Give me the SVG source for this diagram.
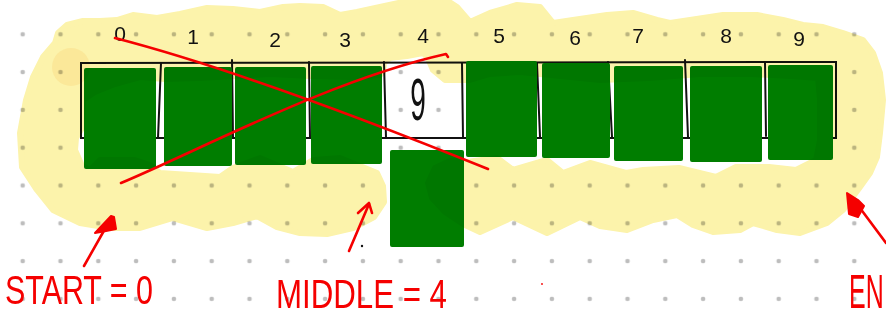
<svg xmlns="http://www.w3.org/2000/svg" width="886" height="320" viewBox="0 0 886 320">
  <defs>
    <pattern id="dots" x="3.8" y="15.4" width="37.8" height="37.8" patternUnits="userSpaceOnUse">
      <circle cx="18.9" cy="18.9" r="2.3" fill="#bdbdbd"/>
    </pattern>
    <style>
      .box { fill: #007d00; }
      .line { fill: none; stroke: #111; stroke-width: 2; stroke-linecap: round; }
      .idx { font-family: "Liberation Sans", "DejaVu Sans", sans-serif; font-size: 21px; fill: #111; text-anchor: middle; }
      .red { fill: none; stroke: #f50000; stroke-width: 2.6; stroke-linecap: round; stroke-linejoin: round; }
      .redfill { fill: #f50000; stroke: #f50000; stroke-width: 2; stroke-linejoin: round; }
      .lbl { font-family: "Liberation Sans", "DejaVu Sans", sans-serif; fill: #f50000; }
    </style>
  </defs>

  <rect width="886" height="320" fill="#ffffff"/>
  <rect id="grid" width="886" height="320" fill="url(#dots)"/>

  <g id="array">
    <path class="line" d="M81,63 L836,62 L836,138 L81,138 Z"/>
    <path class="line" d="M161,63 L158,138 M232,60 L233,138 M309,62 L310,138 M384,62 L386,138 M462,63 L463,137 M537,63 L540,137 M608,62 L612,137 M685,60 L688,137 M765,62 L766,136"/>
  </g>

  <g id="cells">
    <g id="cell0"><rect class="box" x="84" y="68" width="72" height="101" rx="2"/></g>
    <g id="cell1"><rect class="box" x="164" y="67" width="68" height="99" rx="2"/></g>
    <g id="cell2"><rect class="box" x="235" y="67" width="71" height="98" rx="2"/></g>
    <g id="cell3"><rect class="box" x="311" y="66" width="71" height="98" rx="2"/></g>
    <g id="cell4"><rect class="box" x="390" y="150" width="74" height="97" rx="2"/></g>
    <g id="cell5"><rect class="box" x="466" y="61" width="71" height="96" rx="2"/></g>
    <g id="cell6"><rect class="box" x="542" y="63" width="68" height="95" rx="2"/></g>
    <g id="cell7"><rect class="box" x="614" y="66" width="69" height="95" rx="2"/></g>
    <g id="cell8"><rect class="box" x="690" y="66" width="72" height="96" rx="2"/></g>
    <g id="cell9"><rect class="box" x="768" y="65" width="65" height="95" rx="2"/></g>
  </g>

  <g id="highlight" style="mix-blend-mode:multiply">
    <path fill="#fcf3ab" stroke="#fcf3ab" stroke-width="6" stroke-linejoin="round" d="M383,186 L384,202 L374,217 L353,228 L327,234 L300,233 L277,227 L257,216 L233,223 L207,228 L173,218 L140,228 L110,228 L80,223 L53,210 L37,190 L22,167 L20,133 L26,100 L33,77 L43,57 L55,43 L58,33 L67,25 L83,21 L100,21 L117,20 L133,15 L157,18 L180,14 L207,8 L233,9 L260,12 L283,7 L300,6 L323,7 L340,15 L357,12 L380,7 L403,2 L440,-4 L457,7 L470,22 L490,13 L517,5 L540,7 L553,23 L573,20 L607,15 L633,13 L657,20 L670,23 L690,20 L723,15 L757,15 L783,20 L803,25 L823,27 L843,33 L863,40 L873,53 L880,73 L883,100 L880,133 L877,157 L870,173 L860,187 L843,210 L827,223 L800,233 L777,230 L753,223 L740,230 L713,232 L693,225 L677,215 L653,220 L627,230 L600,226 L580,217 L547,233 L513,217 L480,232 L463,224 L445,212 L432,198 L428,183 L435,168 L450,161 L467,162 L497,158 L513,170 L547,160 L563,173 L590,163 L626,173 L643,170 L679,168 L716,177 L736,167 L769,167 L796,170 L816,160 L820,140 L820,100 L818,78 L790,76 L750,74 L700,74 L650,78 L600,80 L560,76 L520,72 L490,74 L470,80 L445,80 L433,70 L428,58 L423,53 L407,56 L390,58 L384,63 L383,72 L380,75 L350,77 L310,76 L270,74 L235,76 L200,78 L165,79 L140,77 L115,84 L95,92 L83,100 L82,128 L76,138 L75,150 L82,166 L90,170 L100,160 L135,160 L150,165 L160,173 L190,175 L220,177 L233,168 L260,158 L293,172 L313,160 L340,158 L360,166 L377,173 Z"/>
    <circle cx="71" cy="67" r="19" fill="#fbe899"/>
  </g>

  <g id="indices">
    <text class="idx" x="120" y="41">0</text>
    <text class="idx" x="193" y="44">1</text>
    <text class="idx" x="275" y="47">2</text>
    <text class="idx" x="345" y="47">3</text>
    <text class="idx" x="423" y="43">4</text>
    <text class="idx" x="499" y="43">5</text>
    <text class="idx" x="575" y="45">6</text>
    <text class="idx" x="638" y="43">7</text>
    <text class="idx" x="726" y="43">8</text>
    <text class="idx" x="799" y="46">9</text>
  </g>

  <g id="value">
    <text font-family="Liberation Sans, DejaVu Sans, sans-serif" font-size="40" fill="#111" text-anchor="middle" transform="translate(418,120) scale(0.7,1.5)">9</text>
  </g>

  <g id="connectors">
    <path class="red" d="M115,38 C200,60 330,105 488,169"/>
    <path class="red" d="M121,183 C200,150 330,80 446,54 L448,57"/>
    <path class="red" stroke-width="3" d="M84,266 L110,220"/>
    <path class="redfill" d="M95,233 L111,216 L114,217 L116,229 L106,231 Z"/>
    <path class="red" d="M349,251 L369,204"/>
    <path class="red" d="M358,213 L369,203 L372,213"/>
    <path class="red" stroke-width="3" d="M886,243 L854,200"/>
    <path class="redfill" d="M847,193 L849,214 L858,217 L864,206 L858,200 Z"/>
    <circle cx="362" cy="246" r="1.2" fill="#111"/>
    <circle cx="542" cy="284" r="0.9" fill="#f50000"/>
  </g>

  <g id="labels">
    <text class="lbl" x="5" y="304" font-size="40" textLength="148" lengthAdjust="spacingAndGlyphs">START = 0</text>
    <text class="lbl" x="276" y="308" font-size="40" textLength="171" lengthAdjust="spacingAndGlyphs">MIDDLE = 4</text>
    <text class="lbl" font-size="48" transform="translate(849,308) scale(0.52,1)">EN</text>
  </g>
</svg>
